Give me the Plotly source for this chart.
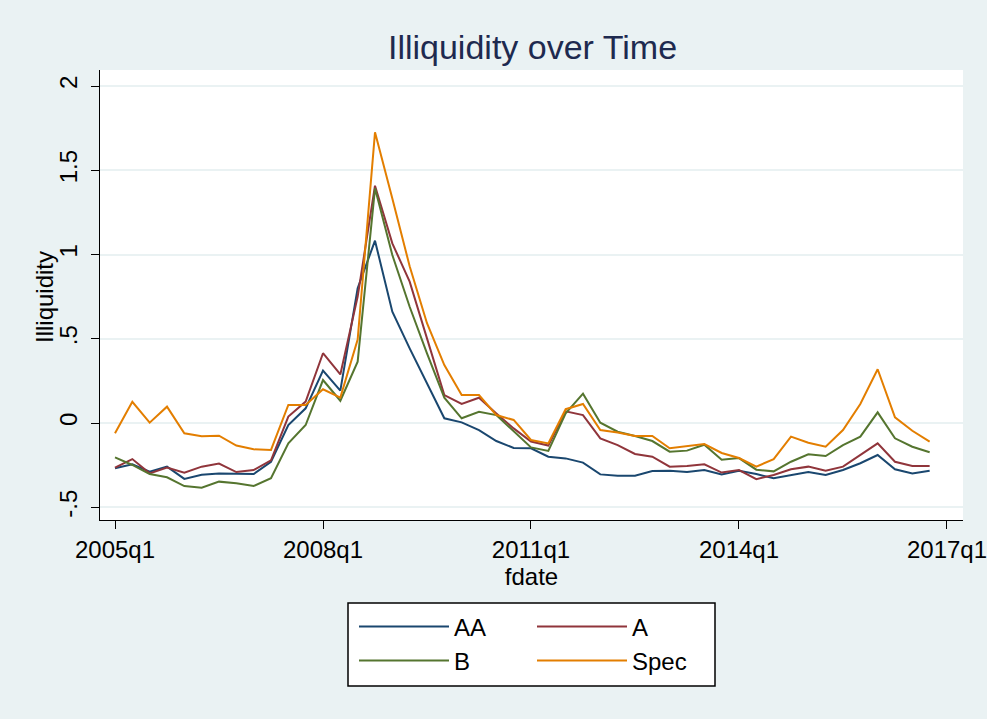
import plotly.graph_objects as go

# ---- data (quarterly, 2005q1 .. 2016q4) ----
quarters = [f"{y}q{q}" for y in range(2005, 2017) for q in range(1, 5)]
q_index = list(range(len(quarters)))

AA = [-0.269, -0.245, -0.289, -0.259, -0.332, -0.307, -0.299, -0.303, -0.303, -0.230,
      -0.012, 0.087, 0.311, 0.192, 0.800, 1.082, 0.661, 0.443, 0.235, 0.028,
      0.004, -0.042, -0.107, -0.148, -0.150, -0.200, -0.210, -0.235, -0.305, -0.313,
      -0.313, -0.285, -0.283, -0.291, -0.279, -0.305, -0.283, -0.303, -0.328, -0.309,
      -0.291, -0.309, -0.279, -0.239, -0.190, -0.275, -0.299, -0.283]
A = [-0.265, -0.214, -0.299, -0.265, -0.295, -0.259, -0.241, -0.291, -0.279, -0.222,
     0.038, 0.127, 0.414, 0.288, 0.750, 1.408, 1.066, 0.839, 0.502, 0.166,
     0.113, 0.150, 0.057, -0.032, -0.110, -0.134, 0.069, 0.047, -0.091, -0.131,
     -0.184, -0.200, -0.259, -0.255, -0.245, -0.294, -0.279, -0.333, -0.309, -0.275,
     -0.259, -0.283, -0.259, -0.190, -0.121, -0.230, -0.255, -0.255]
B = [-0.204, -0.249, -0.303, -0.322, -0.374, -0.384, -0.348, -0.358, -0.374, -0.328,
     -0.121, -0.012, 0.255, 0.132, 0.364, 1.393, 0.997, 0.690, 0.413, 0.150,
     0.028, 0.067, 0.047, -0.052, -0.145, -0.166, 0.057, 0.174, 0.002, -0.052,
     -0.077, -0.107, -0.170, -0.164, -0.129, -0.218, -0.208, -0.277, -0.287, -0.230,
     -0.186, -0.196, -0.131, -0.081, 0.063, -0.091, -0.141, -0.174]
Spec = [-0.061, 0.126, 0.002, 0.097, -0.061, -0.079, -0.075, -0.134, -0.156, -0.160,
        0.107, 0.107, 0.200, 0.151, 0.495, 1.725, 1.333, 0.930, 0.592, 0.344,
        0.166, 0.166, 0.047, 0.018, -0.101, -0.121, 0.082, 0.113, -0.042, -0.057,
        -0.077, -0.077, -0.150, -0.137, -0.125, -0.178, -0.208, -0.259, -0.215, -0.081,
        -0.117, -0.141, -0.042, 0.113, 0.319, 0.034, -0.046, -0.111]

series_names = ["AA", "A", "B", "Spec"]
series_colors = ["#1A476F", "#90353B", "#55752F", "#E37E00"]
series_legend = ["legend", "legend", "legend2", "legend2"]

x_tick_vals = [0, 12, 24, 36, 48]
x_tick_text = ["2005q1", "2008q1", "2011q1", "2014q1", "2017q1"]
y_tick_vals = [-0.5, 0, 0.5, 1, 1.5, 2]
y_tick_text = ["-.5", "0", ".5", "1", "1.5", "2"]

FONT = "Liberation Sans, Arial, sans-serif"
W, H = 987, 719
L, R, T, Bm = 100, 24, 70, 199
PW, PH = W - L - R, H - T - Bm


def px_x(p):
    return (p - L) / PW


def px_y(p):
    return (H - Bm - p) / PH


fig = go.Figure()
for name, vals, col, lg in zip(series_names, [AA, A, B, Spec], series_colors, series_legend):
    fig.add_trace(go.Scatter(
        x=q_index, y=vals, mode="lines", name=name,
        line=dict(color=col, width=2), legend=lg,
        customdata=quarters, hovertemplate="%{customdata}: %{y}<extra>" + name + "</extra>",
    ))

legend_common = dict(
    orientation="h", xanchor="left", yanchor="middle",
    bgcolor="rgba(0,0,0,0)", borderwidth=0,
    font=dict(family=FONT, size=24, color="black"),
    itemwidth=90, entrywidth=73, tracegroupgap=0,
)

fig.update_layout(
    width=W, height=H,
    margin=dict(l=L, r=R, t=T, b=Bm, autoexpand=False),
    paper_bgcolor="#EAF2F3", plot_bgcolor="white",
    font=dict(family=FONT, size=24, color="black"),
    title=dict(text="Illiquidity over Time", x=px_x(532.5), xref="paper", xanchor="center",
               y=1 - 47 / H, yanchor="middle",
               font=dict(family=FONT, size=34, color="#1E2A4F")),
    xaxis=dict(range=[(100 - 115) / 17.333, (963 - 115) / 17.333],
               tickvals=x_tick_vals, ticktext=x_tick_text,
               ticks="outside", ticklen=8, tickwidth=1, tickcolor="black",
               showline=True, linecolor="black", linewidth=1, mirror=False,
               showgrid=False, zeroline=False, ticklabeloverflow="allow",
               tickfont=dict(size=24), automargin=False,
               title=dict(text="fdate", font=dict(size=24), standoff=4)),
    yaxis=dict(range=[(423 - 520) / 168.5, (423 - 70) / 168.5],
               tickvals=y_tick_vals, ticktext=y_tick_text, tickangle=-90,
               ticks="outside", ticklen=8, tickwidth=1, tickcolor="black",
               showline=True, linecolor="black", linewidth=1,
               showgrid=True, gridcolor="#EAF2F3", gridwidth=2, zeroline=False,
               ticklabelstandoff=4,
               tickfont=dict(size=24), automargin=False),
    annotations=[dict(text="Illiquidity", textangle=-90, xref="paper", yref="paper",
                      x=px_x(44), y=px_y(297), xanchor="center", yanchor="middle",
                      showarrow=False, font=dict(family=FONT, size=24, color="black"))],
    legend=dict(x=px_x(354), y=px_y(627), **legend_common),
    legend2=dict(x=px_x(354), y=px_y(661), **legend_common),
    shapes=[dict(type="rect", xref="paper", yref="paper",
                 x0=px_x(348), x1=px_x(715), y0=px_y(686), y1=px_y(603),
                 line=dict(color="black", width=1.5), fillcolor="white", layer="below")],
)

fig.write_html("out.html", config={"displayModeBar": False},
               post_script="document.body.style.margin='0';")
